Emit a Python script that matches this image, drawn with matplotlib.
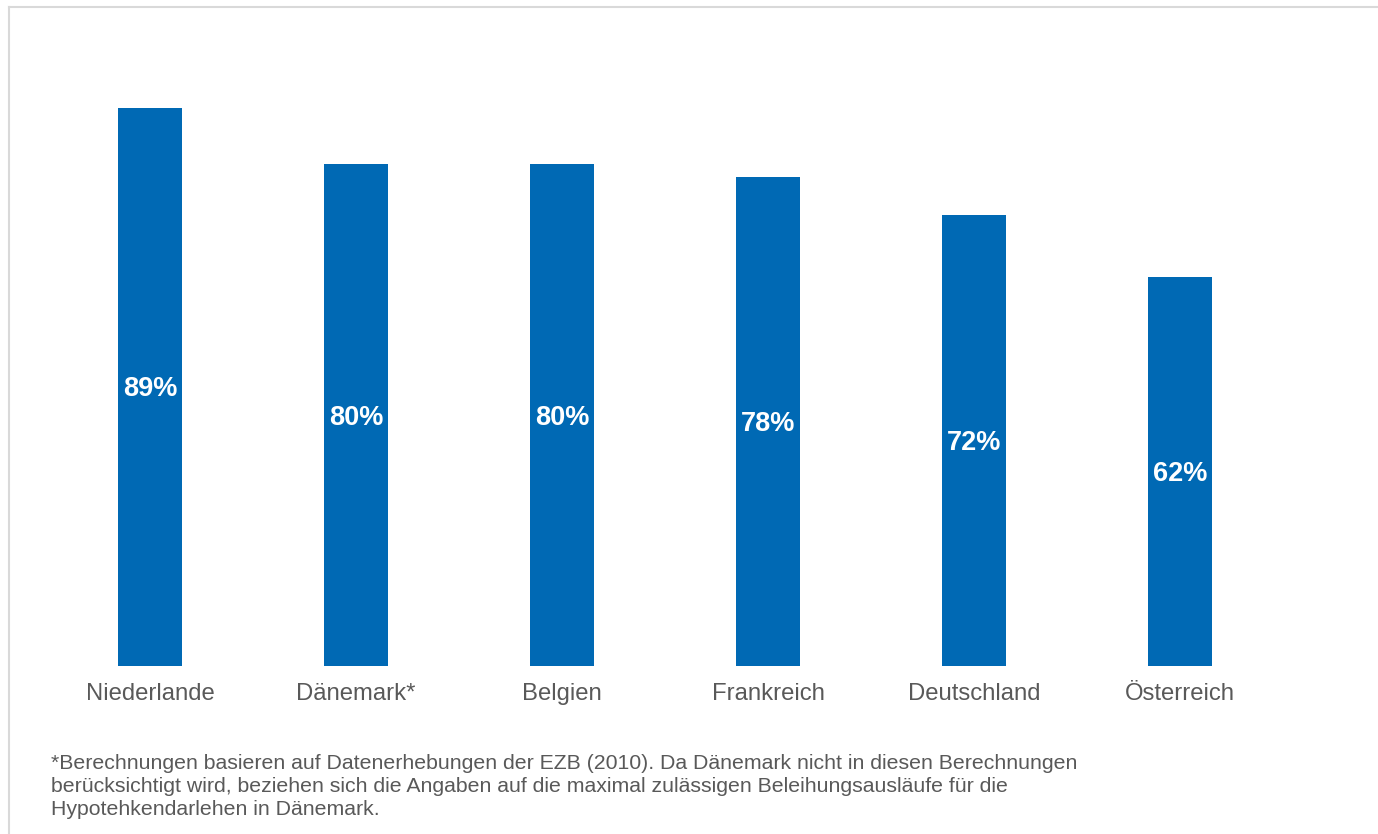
import matplotlib
matplotlib.use("Agg")
import matplotlib.pyplot as plt
from matplotlib.lines import Line2D

plt.rcParams['font.family'] = ['Liberation Sans', 'DejaVu Sans']

categories = ["Niederlande", "Dänemark*", "Belgien", "Frankreich", "Deutschland", "Österreich"]
values = [89, 80, 80, 78, 72, 62]
value_labels = ["89%", "80%", "80%", "78%", "72%", "62%"]
footnote = ("*Berechnungen basieren auf Datenerhebungen der EZB (2010). Da Dänemark nicht in diesen Berechnungen\n"
            "berücksichtigt wird, beziehen sich die Angaben auf die maximal zulässigen Beleihungsausläufe für die\n"
            "Hypotehkendarlehen in Dänemark.")

W, H = 1378, 834
fig = plt.figure(figsize=(W / 100, H / 100), dpi=100)

# axes placement in pixels
left, right, bottom, top = 47, 1283, 666, 39
ax = fig.add_axes([left / W, 1 - bottom / H, (right - left) / W, (bottom - top) / H])

x = list(range(len(categories)))
bars = ax.bar(x, values, width=0.315, color="#0069B4")
for xi, v, lab in zip(x, values, value_labels):
    ax.annotate(lab, (xi, v / 2), xytext=(0, -2.5), textcoords="offset pixels",
                ha="center", va="center", color="white",
                fontsize=19.5, fontweight="bold")

ax.set_xlim(-0.5, len(categories) - 0.5)
ax.set_ylim(0, 100)
ax.set_xticks(x)
ax.set_xticklabels(categories, fontsize=17.2, color="#595959")
ax.tick_params(axis="x", length=0, pad=12)
ax.set_yticks([])
for s in ax.spines.values():
    s.set_visible(False)

fig.text(51 / W, 1 - 754 / H, footnote, ha="left", va="top", fontsize=15.35,
         color="#595959", linespacing=1.28)

# light frame (top and left edges visible)
fig.add_artist(Line2D([8.5 / W, 8.5 / W], [0, 1 - 6.5 / H], transform=fig.transFigure,
                      color="#D9D9D9", lw=1.5))
fig.add_artist(Line2D([8.5 / W, 1], [1 - 6.5 / H, 1 - 6.5 / H], transform=fig.transFigure,
                      color="#D9D9D9", lw=1.5))

fig.savefig("out.png", dpi=100)
